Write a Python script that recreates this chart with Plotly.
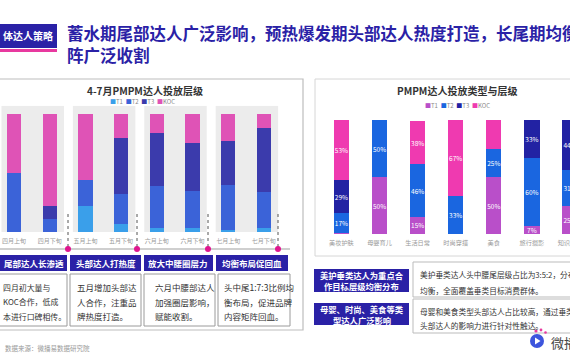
import plotly.graph_objects as go

# ---------------- data ----------------
periods = ["四月上旬", "四月下旬", "五月上旬", "五月下旬", "六月上旬", "六月下旬", "七月上旬", "七月下旬"]
left_t1 = [0, 0, 22, 7, 3, 3, 2, 3]
left_t2 = [50, 11, 22, 25, 36, 32, 38, 31]
left_t3 = [0, 11, 0, 48, 45, 40, 37, 54]
left_koc = [50, 78, 56, 20, 16, 25, 23, 12]

types = ["美妆护肤", "母婴育儿", "生活日常", "时尚穿搭", "美食", "旅行摄影", "知识科普"]
right_t1 = [1, 50, 15, 0, 50, 7, 25]
right_t2 = [17, 50, 46, 33, 25, 60, 31]
right_t3 = [29, 0, 0, 0, 0, 33, 44]
right_koc = [53, 0, 38, 67, 25, 0, 0]
right_t1_text = ["", "50%", "15%", "", "50%", "7%", "25%"]
right_t2_text = ["17%", "50%", "46%", "33%", "25%", "60%", "31%"]
right_t3_text = ["29%", "", "", "", "", "33%", "44%"]
right_koc_text = ["53%", "", "38%", "67%", "", "", ""]

series_names = ["T1", "T2", "T3", "KOC"]
left_colors = ["#3a9fea", "#3b63d8", "#3b3bac", "#df53b6"]
right_colors = ["#b94fc9", "#1a66e0", "#2222a3", "#ef3ab0"]

FONT = "Noto Sans CJK SC"
W, H = 570, 360
NAVY = "#2a21a6"


def px(x):
    return x / W


def py(y):
    return 1 - y / H


fig = go.Figure()

left_vals = [left_t1, left_t2, left_t3, left_koc]
for name, vals, col in zip(series_names, left_vals, left_colors):
    fig.add_trace(go.Bar(x=periods, y=vals, name=name, marker_color=col,
                         marker_line_width=0, xaxis="x", yaxis="y", showlegend=False))

right_vals = [right_t1, right_t2, right_t3, right_koc]
right_txt = [right_t1_text, right_t2_text, right_t3_text, right_koc_text]
for name, vals, txt, col in zip(series_names, right_vals, right_txt, right_colors):
    fig.add_trace(go.Bar(x=types, y=vals, name=name, marker_color=col, text=txt,
                         textposition="inside", insidetextanchor="middle", textangle=0,
                         textfont=dict(size=6.5, color="white", family=FONT),
                         marker_line_width=0, xaxis="x2", yaxis="y2", showlegend=False))

shapes = []
# header tag
shapes.append(dict(type="rect", xref="paper", yref="paper", x0=px(-2), x1=px(57), y0=py(48), y1=py(24),
                   fillcolor=NAVY, line_width=0))
shapes.append(dict(type="rect", xref="paper", yref="paper", x0=px(-2), x1=px(57), y0=py(52), y1=py(49),
                   fillcolor="#e8399f", line_width=0))
# left panel outline
shapes.append(dict(type="rect", xref="paper", yref="paper", x0=px(-2), x1=px(303), y0=py(330), y1=py(79),
                   line=dict(color="#bdbdbd", width=1.2), fillcolor="rgba(0,0,0,0)", layer="below"))
# right chart box
shapes.append(dict(type="rect", xref="paper", yref="paper", x0=px(315), x1=px(580), y0=py(256), y1=py(79),
                   line=dict(color="#d6d6d6", width=1), fillcolor="rgba(0,0,0,0)", layer="below"))
# left group backgrounds
for g in range(4):
    shapes.append(dict(type="rect", xref="x", yref="y", x0=2 * g - 0.35, x1=2 * g + 1.4, y0=0, y1=107,
                       fillcolor="#ececec", line_width=0, layer="below"))
# timeline
shapes.append(dict(type="line", xref="paper", yref="paper", x0=px(0), x1=px(290), y0=py(249), y1=py(249),
                   line=dict(color="#cfcfcf", width=2)))
for xx in [68, 137, 208, 278]:
    shapes.append(dict(type="line", xref="paper", yref="paper", x0=px(xx), x1=px(xx), y0=py(247), y1=py(212),
                       line=dict(color="#555555", width=1, dash="dot")))
    shapes.append(dict(type="circle", xref="paper", yref="paper", x0=px(xx - 3), x1=px(xx + 3),
                       y0=py(252), y1=py(246), fillcolor="#e0168f", line_width=0))
# left header boxes / desc boxes
left_heads = [(-5, 67), (70, 141), (144, 213), (216, 288)]
left_descs = [(-5, 67), (70, 141), (144, 215), (218, 290)]
for (a, b) in left_heads:
    shapes.append(dict(type="rect", xref="paper", yref="paper", x0=px(a), x1=px(b), y0=py(271), y1=py(255),
                       fillcolor=NAVY, line_width=0))
for (a, b) in left_descs:
    shapes.append(dict(type="rect", xref="paper", yref="paper", x0=px(a), x1=px(b), y0=py(326), y1=py(274),
                       fillcolor="white", line=dict(color="#9a9a9a", width=1)))
# right bottom boxes
shapes.append(dict(type="rect", xref="paper", yref="paper", x0=px(314), x1=px(409), y0=py(292), y1=py(269),
                   fillcolor=NAVY, line_width=0))
shapes.append(dict(type="rect", xref="paper", yref="paper", x0=px(314), x1=px(409), y0=py(325), y1=py(303),
                   fillcolor=NAVY, line_width=0))
shapes.append(dict(type="rect", xref="paper", yref="paper", x0=px(413), x1=px(580), y0=py(297), y1=py(262),
                   fillcolor="white", line=dict(color="#bbbbbb", width=1)))
shapes.append(dict(type="rect", xref="paper", yref="paper", x0=px(413), x1=px(580), y0=py(333), y1=py(299),
                   fillcolor="white", line=dict(color="#bbbbbb", width=1)))
# logo
shapes.append(dict(type="circle", xref="paper", yref="paper", x0=px(530), x1=px(544), y0=py(348), y1=py(334),
                   fillcolor="#3d55dd", line_width=0))
shapes.append(dict(type="path", xref="paper", yref="paper",
                   path=f"M {px(535)} {py(337.5)} L {px(540.5)} {py(341)} L {px(535)} {py(344.5)} Z",
                   fillcolor="white", line_width=0))
for (cx, cy, r) in [(536, 331, 1.6), (541, 330, 1.4), (545.5, 332.5, 1.3)]:
    shapes.append(dict(type="circle", xref="paper", yref="paper", x0=px(cx - r), x1=px(cx + r),
                       y0=py(cy + r), y1=py(cy - r), fillcolor="#e8399f", line_width=0))

ann = []


def text(x, y, s, size, color="#333333", bold=False, xanchor="left"):
    ann.append(dict(x=px(x), y=py(y), xref="paper", yref="paper", text=(f"<b>{s}</b>" if bold else s),
                    showarrow=False, xanchor=xanchor, yanchor="middle",
                    font=dict(size=size, color=color, family=FONT)))


text(1, 36, "体达人策略", 10, "white", True)
text(65, 33, "蓄水期尾部达人广泛影响，预热爆发期头部达人热度打造，长尾期均衡矩", 16.5, NAVY, True)
text(65, 54.5, "阵广泛收割", 16.5, NAVY, True)

text(145, 90, "4-7月PMPM达人投放层级", 10, "#333333", True, "center")
text(457, 90, "PMPM达人投放类型与层级", 10, "#333333", True, "center")


def legend_html(colors):
    parts = [f"<span style='color:{c}'>■</span>{n}" for n, c in zip(series_names, colors)]
    return "  ".join(parts)


text(142, 101, legend_html(left_colors), 6, "#8a8a8a", False, "center")
text(457, 105, legend_html(right_colors), 6, "#8a8a8a", False, "center")

heads = ["尾部达人长渗透", "头部达人打热度", "放大中腰圈层力", "均衡布局促回血"]
for (a, b), h in zip(left_heads, heads):
    text((max(a, 0) + b) / 2, 263, h, 8.5, "white", True, "center")

descs = [
    (1, 7.9, ["四月初大量与", "KOC合作，低成", "本进行口碑相传。"]),
    (75, 8.5, ["五月增加头部达", "人合作，注重品", "牌热度打造。"]),
    (153, 8.5, ["六月中腰部达人", "加强圈层影响，", "赋能收割。"]),
    (222, 8.5, ["头中尾1:7:3比例均", "衡布局，促进品牌", "内容矩阵回血。"]),
]
for x0, fs, lines in descs:
    for i, ln in enumerate(lines):
        text(x0, 287 + 14.5 * i, ln, fs)

text(361.5, 275, "美护垂类达人为重点合", 8.3, "white", True, "center")
text(361.5, 286, "作目标层级均衡分布", 8.3, "white", True, "center")
text(361.5, 309, "母婴、时尚、美食等类", 8.3, "white", True, "center")
text(361.5, 320, "型达人广泛影响", 8.3, "white", True, "center")

text(418, 274, "美护垂类达人头中腰尾层级占比为3:5:2，分布较为", 7.7)
text(418, 290, "均衡，全面覆盖垂类目标消费群体。", 7.7)
text(418, 311, "母婴和美食类型头部达人占比较高，通过垂类", 7.7)
text(418, 325, "头部达人的影响力进行针对性触达。", 7.7)

text(3, 348, "数据来源：微播易数据研究院", 6.5, "#9a9a9a")
text(549, 342, "微播易", 13, "#444444")

axis_common = dict(showgrid=False, zeroline=False, showline=False, fixedrange=True, automargin=False)

fig.update_layout(
    width=W, height=H, autosize=False,
    margin=dict(l=0, r=0, t=0, b=0, pad=0),
    paper_bgcolor="white", plot_bgcolor="rgba(0,0,0,0)",
    barmode="stack", bargap=0.6,
    uniformtext=dict(minsize=6.5, mode="show"),
    font=dict(family=FONT),
    showlegend=False,
    xaxis=dict(domain=[0, px(281)], type="category", range=[-0.392, 7.48],
               tickfont=dict(size=6, color="#9a9a9a", family=FONT), ticks="outside", ticklen=3,
               tickcolor="rgba(0,0,0,0)", anchor="y", **axis_common),
    yaxis=dict(domain=[py(232), py(105.7)], range=[0, 107], showticklabels=False, anchor="x",
               **axis_common),
    xaxis2=dict(domain=[px(318), 1], type="category", range=[-0.615, 6.0],
                tickfont=dict(size=6.2, color="#9a9a9a", family=FONT), ticks="outside", ticklen=3,
                tickcolor="rgba(0,0,0,0)", anchor="y2", **axis_common),
    yaxis2=dict(domain=[py(234), py(120)], range=[0, 100], showticklabels=False, anchor="x2",
                **axis_common),
    shapes=shapes,
    annotations=ann,
)

post = "document.body.style.margin='0px';document.body.style.overflow='hidden';"
fig.write_html("out.html", config={"displayModeBar": False}, post_script=post)
